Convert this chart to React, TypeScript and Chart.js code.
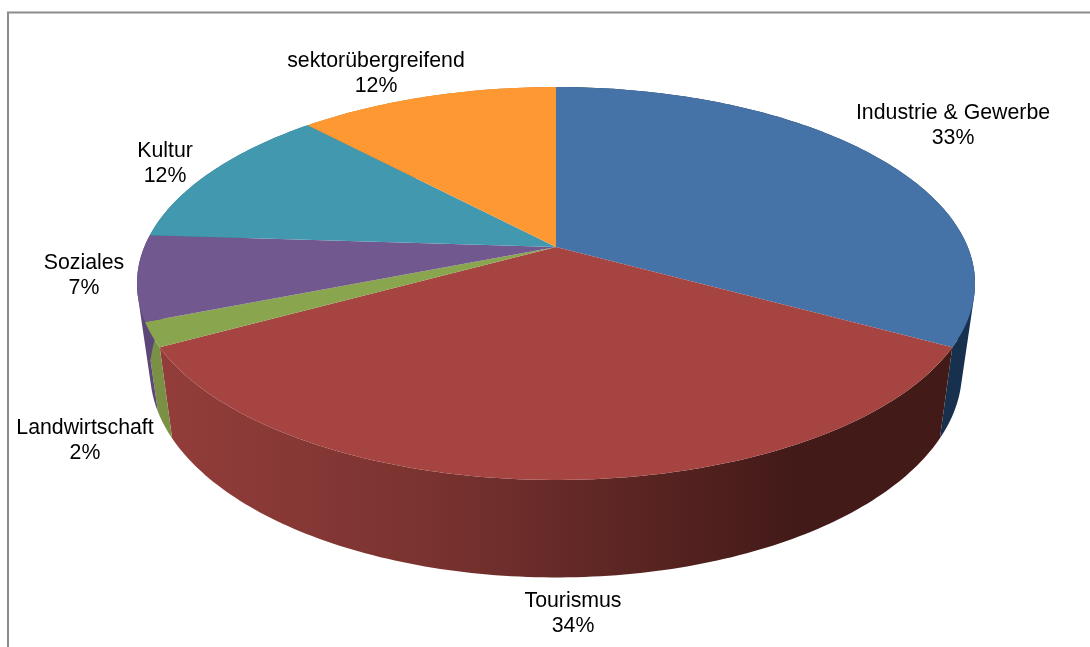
import React, { useEffect, useRef } from "react";
import { ArcElement, Chart, PieController, registerables } from "chart.js";

// Funding share per sector, in percent, clockwise from twelve o'clock.
const sectors = ["Industrie & Gewerbe", "Tourismus", "Landwirtschaft", "Soziales", "Kultur", "sektorübergreifend"];
const shares = [33, 34, 2, 7, 12, 12];
const topColors = ["#4572a7", "#a64441", "#89a54e", "#71588f", "#4198af", "#fd9833"];
const wallColors = ["#17304e", "", "#7a9044", "#5c4779", "#35788c", "#c97a2a"];
const tourismWallStops: [number, string][] = [
  [0, "#923d3a"],
  [0.33, "#7a3330"],
  [0.8, "#421a18"],
  [1, "#421a18"],
];

// Where each two-line label is centred (first-line centre).
const labelCentres: [number, number][] = [
  [953, 113.5],
  [573, 601.5],
  [85, 428.5],
  [84, 263.5],
  [165, 151],
  [376, 61.5],
];

// Projection of the pie disc: ratios are relative to the element's outer radius.
const PERSPECTIVE = 0.1857;
const TOP_RIM = { ax: 1.667, ky: 0.768, dy: 0 };
const BOTTOM_RIM = { ax: 1.615, ky: 0.806, dy: 0.348 };

type Rim = typeof TOP_RIM;
type Pt = [number, number];

function project(cx: number, cy: number, r: number, angle: number, rim: Rim): Pt {
  const X = Math.cos(angle);
  const Y = Math.sin(angle);
  const w = 1 - PERSPECTIVE * Y;
  return [cx + (r * rim.ax * X) / w, cy + r * rim.dy + (r * rim.ky * Y) / w];
}

function signedArea(quad: Pt[]): number {
  let sum = 0;
  quad.forEach(([x0, y0], i) => {
    const [x1, y1] = quad[(i + 1) % quad.length];
    sum += x0 * y1 - x1 * y0;
  });
  return sum;
}

class PerspectiveArc extends ArcElement {
  static id = "perspectiveArc";

  rimPoints(rim: Rim): Pt[] {
    const { x, y, startAngle, endAngle, outerRadius } = this.getProps(["x", "y", "startAngle", "endAngle", "outerRadius"]) as any;
    const steps = Math.max(4, Math.ceil((endAngle - startAngle) * 60));
    const pts: Pt[] = [];
    for (let i = 0; i <= steps; i++) {
      pts.push(project(x, y, outerRadius, startAngle + ((endAngle - startAngle) * i) / steps, rim));
    }
    return pts;
  }

  // The wall is one path of narrow strips wound the same way, so its outline
  // follows the tangent between the two rims and no seams show between strips.
  drawWall(ctx: CanvasRenderingContext2D, fill: string | CanvasGradient) {
    const top = this.rimPoints(TOP_RIM);
    const bottom = this.rimPoints(BOTTOM_RIM);
    ctx.save();
    ctx.fillStyle = fill;
    ctx.beginPath();
    for (let i = 0; i + 1 < top.length; i++) {
      const quad: Pt[] = [top[i], top[i + 1], bottom[i + 1], bottom[i]];
      if (signedArea(quad) < 0) quad.reverse();
      quad.forEach(([px, py], k) => (k ? ctx.lineTo(px, py) : ctx.moveTo(px, py)));
      ctx.closePath();
    }
    ctx.fill("nonzero");
    ctx.restore();
  }

  draw(ctx: CanvasRenderingContext2D) {
    const { x, y } = this.getProps(["x", "y"]) as any;
    ctx.save();
    ctx.fillStyle = (this as any).options.backgroundColor;
    ctx.beginPath();
    ctx.moveTo(x, y);
    this.rimPoints(TOP_RIM).forEach(([px, py]) => ctx.lineTo(px, py));
    ctx.closePath();
    ctx.fill();
    ctx.restore();
  }
}

class PerspectivePieController extends PieController {
  static id = "perspectivePie";
  static defaults = { dataElementType: "perspectiveArc" };

  draw() {
    const chart = (this as any).chart as Chart;
    const ctx = chart.ctx;
    const arcs = this.getMeta().data as unknown as PerspectiveArc[];
    const tourismWall = ctx.createLinearGradient(167, 0, 955, 0);
    tourismWallStops.forEach(([at, color]) => tourismWall.addColorStop(at, color));
    // Side walls first so every top face lies over them.
    arcs.forEach((arc, i) => arc.drawWall(ctx, wallColors[i] || tourismWall));
    arcs.forEach((arc) => arc.draw(ctx));
  }
}

Chart.register(...registerables, PerspectiveArc, PerspectivePieController);

const framePlugin = {
  id: "frame",
  beforeDraw(chart: Chart) {
    const { ctx, width, height } = chart;
    ctx.save();
    ctx.fillStyle = "#ffffff";
    ctx.fillRect(0, 0, width, height);
    ctx.strokeStyle = "#8c8c8c";
    ctx.lineWidth = 2;
    ctx.beginPath();
    ctx.moveTo(8, height);
    ctx.lineTo(8, 12.5);
    ctx.lineTo(width, 12.5);
    ctx.stroke();
    ctx.restore();
  },
};

const sectorLabelPlugin = {
  id: "sectorLabels",
  afterDatasetsDraw(chart: Chart) {
    const { ctx } = chart;
    ctx.save();
    ctx.font = '21.3px "Liberation Sans", Arial, sans-serif';
    ctx.fillStyle = "#000000";
    ctx.textAlign = "center";
    ctx.textBaseline = "middle";
    sectors.forEach((name, i) => {
      const [x, y] = labelCentres[i];
      ctx.fillText(name, x, y);
      ctx.fillText(`${shares[i]}%`, x, y + 25);
    });
    ctx.restore();
  },
};

export default function App() {
  const canvasRef = useRef<HTMLCanvasElement>(null);

  useEffect(() => {
    document.body.style.margin = "0";
    const chart = new Chart(canvasRef.current!, {
      type: "perspectivePie" as any,
      data: {
        labels: sectors,
        datasets: [{ data: shares, backgroundColor: topColors, borderWidth: 0 }],
      },
      options: {
        responsive: false,
        animation: false,
        events: [],
        layout: { padding: { left: 22, right: 0, top: 0, bottom: 153 } },
        plugins: { legend: { display: false }, tooltip: { enabled: false } },
      },
      plugins: [framePlugin, sectorLabelPlugin],
    });
    return () => chart.destroy();
  }, []);

  return <canvas ref={canvasRef} width={1090} height={647} style={{ display: "block" }} />;
}
